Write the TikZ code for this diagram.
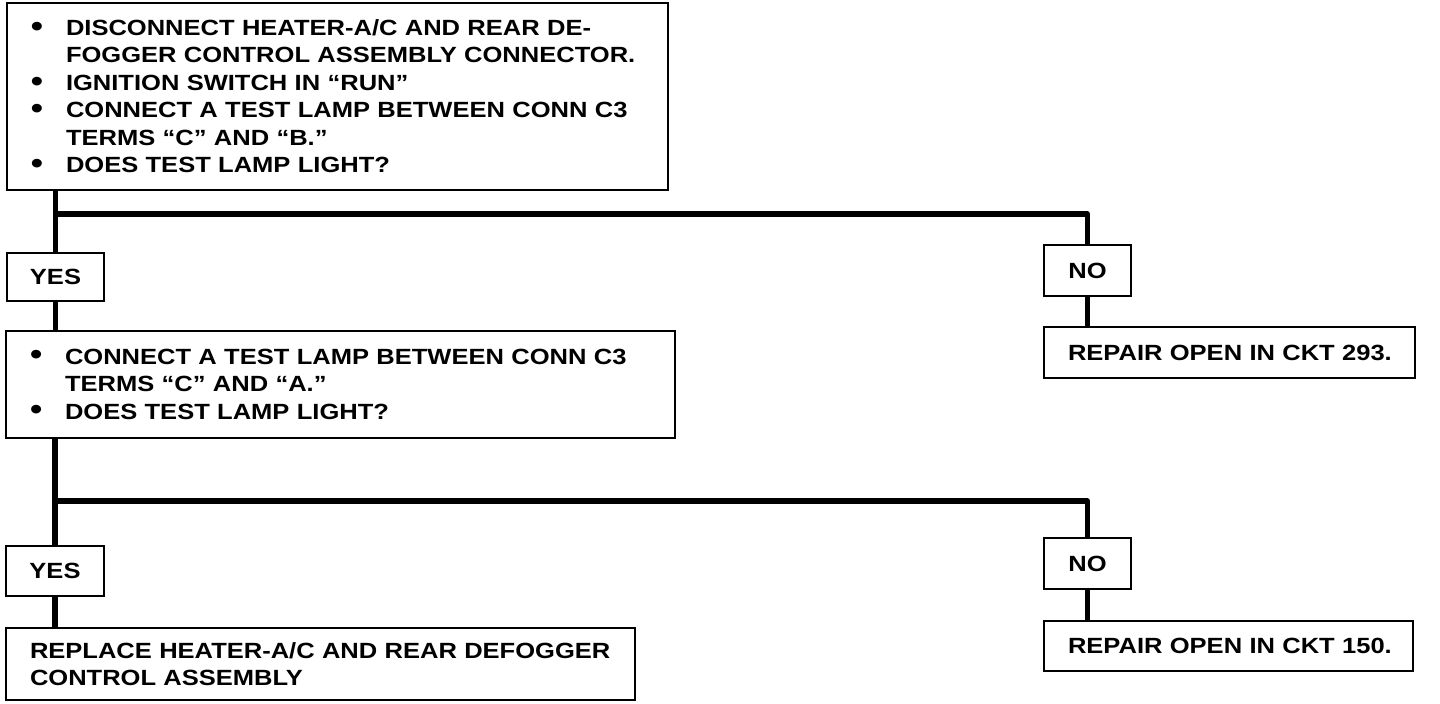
\documentclass[tikz,border=0pt]{standalone}
\usepackage{fontspec}
\setmainfont{Liberation Sans}[FakeStretch=1.16]
\newcommand{\bul}{\makebox[17.5pt][l]{\raisebox{-0.3pt}{\fontsize{15}{13.75}\selectfont\textbullet}}}
\newcommand{\ind}{\hspace*{17.5pt}}

\begin{document}
\begin{tikzpicture}[x=0.5pt,y=-0.5pt,
    txt/.style={font=\bfseries\fontsize{11}{13.75}\selectfont},
    box/.style={txt,draw,line width=1pt,anchor=north west,inner xsep=12pt,
      inner ysep=0pt,align=left},
    tag/.style={txt,draw,line width=1pt,anchor=north west,inner sep=0pt},
    conn/.style={line width=2.6pt,line join=round}]
  \useasboundingbox (0,0) rectangle (1440,704);
  % first test
  \node[box,text width=306.5pt,minimum height=93.5pt] (q1) at (6,2)
    {\bul DISCONNECT HEATER-A/C AND REAR DE-\\
     \ind FOGGER CONTROL ASSEMBLY CONNECTOR.\\
     \bul IGNITION SWITCH IN “RUN"\\
     \bul CONNECT A TEST LAMP BETWEEN CONN C3\\
     \ind TERMS “C" AND “B."\\
     \bul DOES TEST LAMP LIGHT?};
  \node[tag,minimum width=48.5pt,minimum height=24pt] (yes1) at (6,252) {YES};
  \node[tag,minimum width=43.5pt,minimum height=25.5pt] (no1) at (1043,244) {NO};
  \node[box,text width=161.5pt,minimum height=25.5pt] (fix1) at (1043,326)
    {\mbox{REPAIR OPEN IN CKT 293.}};
  % second test
  \node[box,text width=310.5pt,minimum height=53.5pt] (q2) at (5,330)
    {\bul CONNECT A TEST LAMP BETWEEN CONN C3\\
     \ind TERMS “C" AND “A."\\
     \bul DOES TEST LAMP LIGHT?};
  \node[tag,minimum width=49pt,minimum height=25pt] (yes2) at (5,545) {YES};
  \node[tag,minimum width=43.5pt,minimum height=25.5pt] (no2) at (1043,537) {NO};
  \node[box,text width=160.5pt,minimum height=25pt] (fix2) at (1043,620)
    {\mbox{REPAIR OPEN IN CKT 150.}};
  \node[box,text width=290.5pt,minimum height=36pt] (swap) at (5,627)
    {REPLACE HEATER-A/C AND REAR DEFOGGER\\
     CONTROL ASSEMBLY};
  % connectors
  \coordinate (b1) at (yes1.north |- 0,214);
  \coordinate (b2) at (yes2.north |- 0,501);
  \draw[conn] (q1.south -| yes1.north) -- (yes1.north);
  \draw[conn] (b1) -| (no1.north);
  \draw[conn] (yes1.south) -- (yes1.south |- q2.north);
  \draw[conn] (no1.south) -- (no1.south |- fix1.north);
  \draw[conn] (q2.south -| yes2.north) -- (yes2.north);
  \draw[conn] (b2) -| (no2.north);
  \draw[conn] (yes2.south) -- (yes2.south |- swap.north);
  \draw[conn] (no2.south) -- (no2.south |- fix2.north);
\end{tikzpicture}
\end{document}
